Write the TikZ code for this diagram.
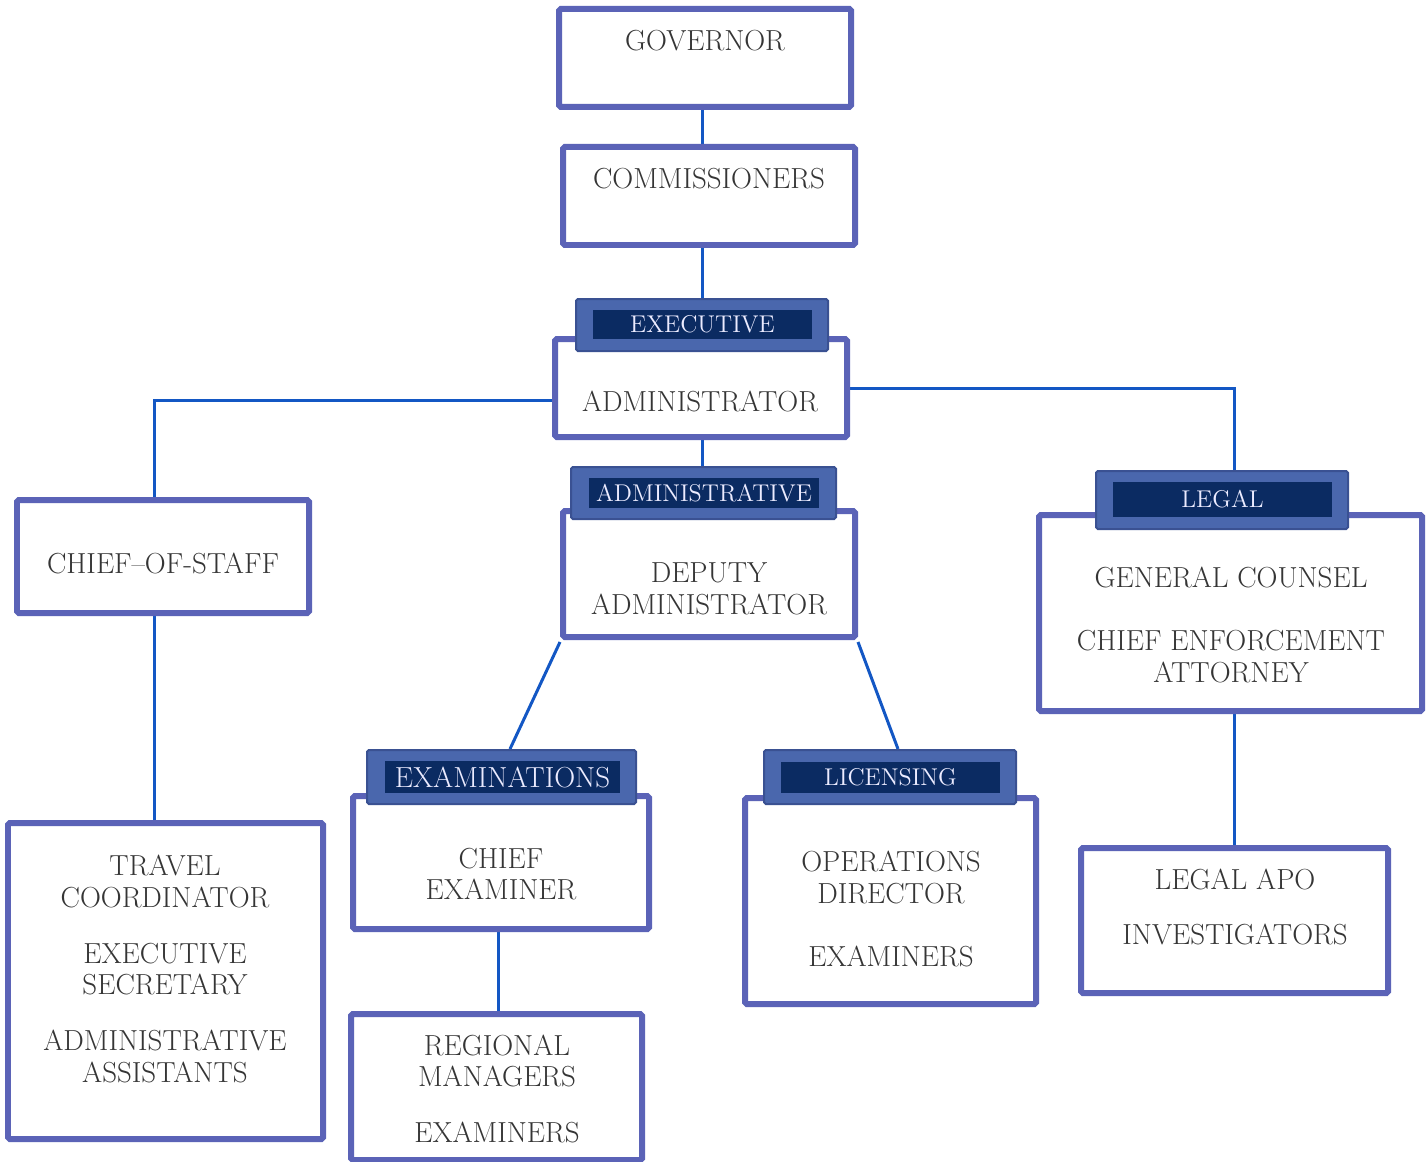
\documentclass[tikz,border=0pt]{standalone}
\usepackage{xcolor}
\usepackage{tikz}
\usetikzlibrary{
	backgrounds,									% 连线放在背景层
	fit,											% 按角点生成方框节点
}

\definecolor{boxblue}{HTML}{5B63B7}
\definecolor{linkblue}{HTML}{1357C4}
\definecolor{tabfill}{HTML}{4A67AD}
\definecolor{tabedge}{HTML}{3A5192}
\definecolor{tabdark}{HTML}{0B2B62}
\definecolor{textgray}{HTML}{353535}

\tikzset{
	box/.style={draw=boxblue, line width=0.12cm, fill=white, inner sep=0pt, rounded corners=1pt},
	txt/.style={text=textgray, align=center, inner sep=0pt, font=\fontsize{16.5}{18.1}\selectfont},
	tabout/.style={draw=tabedge, line width=0.04cm, fill=tabfill, inner sep=0pt, rounded corners=1pt},
	tabin/.style={fill=tabdark, inner sep=0pt, text=white!92!blue, font=\fontsize{13.8}{16}\selectfont},
	link/.style={draw=linkblue, line width=0.06cm},
}

\begin{document}
\begin{tikzpicture}[x=0.02cm, y=-0.02cm]
		\useasboundingbox (0,0) rectangle (1426,1162);
		% 方框
		\node[box, fit={(559,9) (851,107)}] (gov) {};
		\node[txt] (gov-t) at (705,41) {GOVERNOR};
		\node[box, fit={(563,147) (855,245)}] (comm) {};
		\node[txt] (comm-t) at (709,179) {COMMISSIONERS};
		\node[box, fit={(555,339) (847,437)}] (admin) {};
		\node[txt] (admin-t) at (700,401) {ADMINISTRATOR};
		\node[box, fit={(563,511) (855,637)}] (dep) {};
		\node[txt] (dep-t) at (709,589) {DEPUTY\\ADMINISTRATOR};
		\node[box, fit={(17,500) (309,613)}] (cos) {};
		\node[txt] (cos-t) at (163,563) {CHIEF--OF-STAFF};
		\node[box, fit={(8,823) (323,1139)}] (travel) {};
		\node[txt] (travel-t) at (165,969) {TRAVEL\\COORDINATOR\\[13.7pt]EXECUTIVE\\SECRETARY\\[13.7pt]ADMINISTRATIVE\\ASSISTANTS};
		\node[box, fit={(353,796) (649,929)}] (chiefex) {};
		\node[txt] (chiefex-t) at (501,874) {CHIEF\\EXAMINER};
		\node[box, fit={(351,1014) (642,1160)}] (reg) {};
		\node[txt] (reg-t) at (497,1089) {REGIONAL\\MANAGERS\\[13.7pt]EXAMINERS};
		\node[box, fit={(745,798) (1036,1004)}] (ops) {};
		\node[txt] (ops-t) at (891,909) {OPERATIONS\\DIRECTOR\\[18.1pt]EXAMINERS};
		\node[box, fit={(1039,515) (1422,711)}] (gc) {};
		\node[txt] (gc-t) at (1231,625) {GENERAL COUNSEL\\[18.1pt]CHIEF ENFORCEMENT\\ATTORNEY};
		\node[box, fit={(1081,848) (1388,993)}] (apo) {};
		\node[txt] (apo-t) at (1235,907) {LEGAL APO\\[13.7pt]INVESTIGATORS};
		% 标签
		\node[tabout, fit={(576,299) (828,351)}] (exec-tab) {};
		\node[tabin, minimum width=219*0.02cm, minimum height=29*0.02cm] (exec-lab) at (702.5,324.5) {EXECUTIVE};
		\node[tabout, fit={(571,467) (836,519)}] (adm-tab) {};
		\node[tabin, minimum width=230*0.02cm, minimum height=30*0.02cm] (adm-lab) at (704,493) {ADMINISTRATIVE};
		\node[tabout, fit={(1096,471) (1348,529)}] (legal-tab) {};
		\node[tabin, minimum width=219*0.02cm, minimum height=35*0.02cm] (legal-lab) at (1222.5,499.5) {LEGAL};
		\node[tabout, fit={(367,750) (636,804)}] (exam-tab) {};
		\node[tabin, minimum width=235*0.02cm, minimum height=32*0.02cm, font=\fontsize{16.5}{18}\selectfont] (exam-lab) at (502.5,777) {EXAMINATIONS};
		\node[tabout, fit={(764,750) (1016,804)}] (lic-tab) {};
		\node[tabin, minimum width=219*0.02cm, minimum height=31*0.02cm] (lic-lab) at (890.5,777.5) {LICENSING};
		% 连线
		\begin{scope}[on background layer]
			\draw[link] (gov.south -| exec-tab) -- (comm.north -| exec-tab);
			\draw[link] (comm.south -| exec-tab) -- (exec-tab.north);
			\draw[link] ([yshift=-0.26cm]admin.west) -| ([xshift=-0.18cm]cos.north);
			\draw[link] (admin.east) -| ([xshift=0.24cm]legal-tab.north);
			\draw[link] (admin.south -| exec-tab) -- (adm-tab.north -| exec-tab);
			\draw[link] ([yshift=-0.04cm]dep.south west) -- ([xshift=0.17cm]exam-tab.north);
			\draw[link] ([yshift=-0.04cm]dep.south east) -- ([xshift=0.16cm]lic-tab.north);
			\draw[link] ([xshift=-0.18cm]cos.south) -- ([xshift=-0.18cm]cos.south |- travel.north);
			\draw[link] ([xshift=-0.06cm]chiefex.south) -- ([xshift=-0.06cm]chiefex.south |- reg.north);
			\draw[link] (gc.south -| apo) -- (apo.north);
		\end{scope}
	\end{tikzpicture}
\end{document}
